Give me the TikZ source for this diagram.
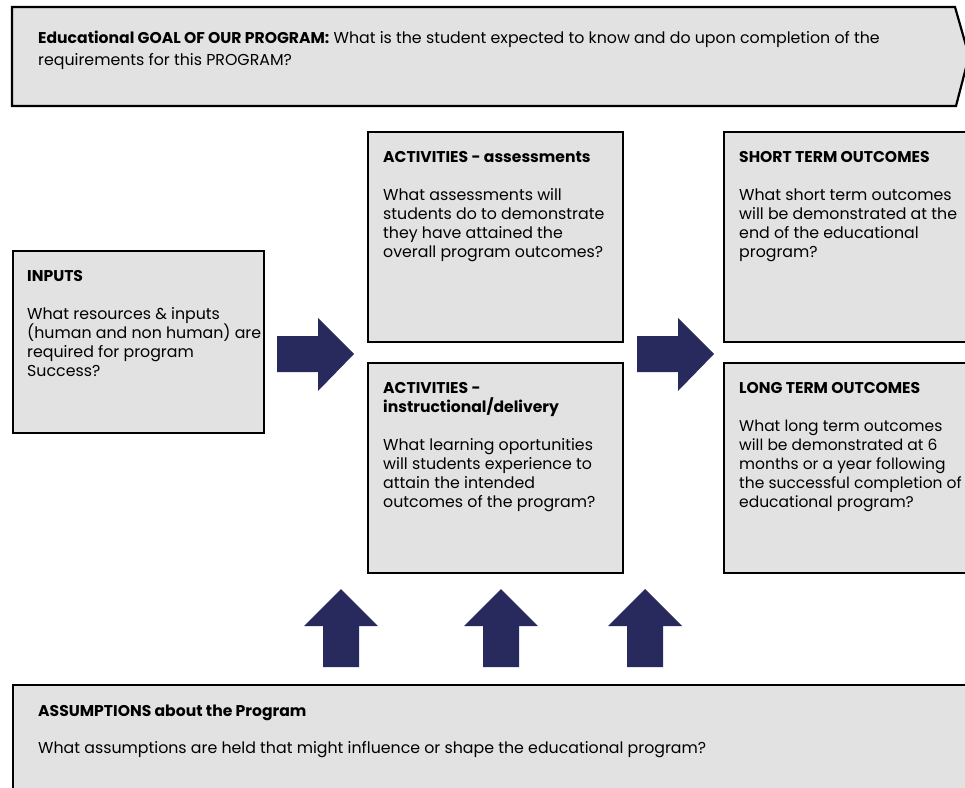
\documentclass[tikz,border=0pt]{standalone}
\usepackage{fontspec}
\setmainfont{Poppins}
\usepackage{tikz}
\usetikzlibrary{positioning}
\definecolor{panelgray}{HTML}{E2E2E2}
\definecolor{navy}{HTML}{282A5E}
\tikzstyle{panel}   = [draw=black, line width=2.2pt, fill=panelgray]
\tikzstyle{boxnode} = [panel, anchor=north west, inner sep=0]
\tikzstyle{txt}     = [anchor=north west, inner sep=0, align=left, font=\fontsize{15.8}{19}\selectfont]
\tikzstyle{bigarrow} = [fill=navy]
\newcommand{\hd}[1]{{\fontsize{15.6}{19}\selectfont\bfseries #1}}

\begin{document}
\begin{tikzpicture}[x=1pt,y=-1pt]
        \useasboundingbox (0,0) rectangle (965,787);
        \clip (0,0) rectangle (965,787);
        % goal banner
        \draw[panel] (12,7) -- (955,7) -- (969,56) -- (956,106) -- (12,106) -- cycle;
        \node[txt, font=\fontsize{15.8}{22}\selectfont] (goal) at (38,31)
            {\hd{Educational GOAL OF OUR PROGRAM:} What is the student expected to know and do upon completion of the\\
             requirements for this PROGRAM?};
        % boxes
        \node[boxnode, minimum width=251pt, minimum height=182pt] (inputs) at (12,250) {};
        \node[boxnode, minimum width=255pt, minimum height=210pt] (assess) at (367,131) {};
        \node[boxnode, minimum width=255pt, minimum height=210pt] (deliver) at (367,362) {};
        \node[boxnode, minimum width=260pt, minimum height=210pt] (short) at (723,131) {};
        \node[boxnode, minimum width=260pt, minimum height=210pt] (long) at (723,362) {};
        \node[boxnode, minimum width=970pt, minimum height=120pt] (assume) at (12,684) {};
        % texts
        \node[txt, below right=20pt and 15pt of inputs.north west] (inputs-t)
            {\hd{INPUTS}\\[19pt]
             What resources \& inputs\\ (human and non human) are\\ required for program\\ Success?};
        \node[txt, below right=20pt and 16pt of assess.north west] (assess-t)
            {\hd{ACTIVITIES - assessments}\\[19pt]
             What assessments will\\ students do to demonstrate\\ they have attained the\\ overall program outcomes?};
        \node[txt, below right=20pt and 16pt of deliver.north west] (deliver-t)
            {\hd{ACTIVITIES -}\\ \hd{instructional/delivery}\\[19pt]
             What learning oportunities\\ will students experience to\\ attain the intended\\ outcomes of the program?};
        \node[txt, below right=20pt and 16pt of short.north west] (short-t)
            {\hd{SHORT TERM OUTCOMES}\\[19pt]
             What short term outcomes\\ will be demonstrated at the\\ end of the educational\\ program?};
        \node[txt, below right=20pt and 16pt of long.north west, font=\fontsize{15.5}{19}\selectfont] (long-t)
            {\hd{LONG TERM OUTCOMES}\\[19pt]
             What long term outcomes\\ will be demonstrated at 6\\ months or a year following\\ the successful completion of\\ educational program?};
        \node[txt, below right=21pt and 26pt of assume.north west] (assume-t)
            {\hd{ASSUMPTIONS about the Program}\\[18pt]
             What assumptions are held that might influence or shape the educational program?};
        % right arrows
        \foreach \x in {277,637}
        {
            \fill[bigarrow, xshift=\x] (0,336) -- (41,336) -- (41,318) -- (77,354) -- (41,391) -- (41,372) -- (0,372) -- cycle;
        }
        % up arrows
        \foreach \x in {341,501,645}
        {
            \fill[bigarrow, xshift=\x] (-18,667) -- (-18,626) -- (-37,626) -- (0,589) -- (37,626) -- (18,626) -- (18,667) -- cycle;
        }
\end{tikzpicture}
\end{document}
